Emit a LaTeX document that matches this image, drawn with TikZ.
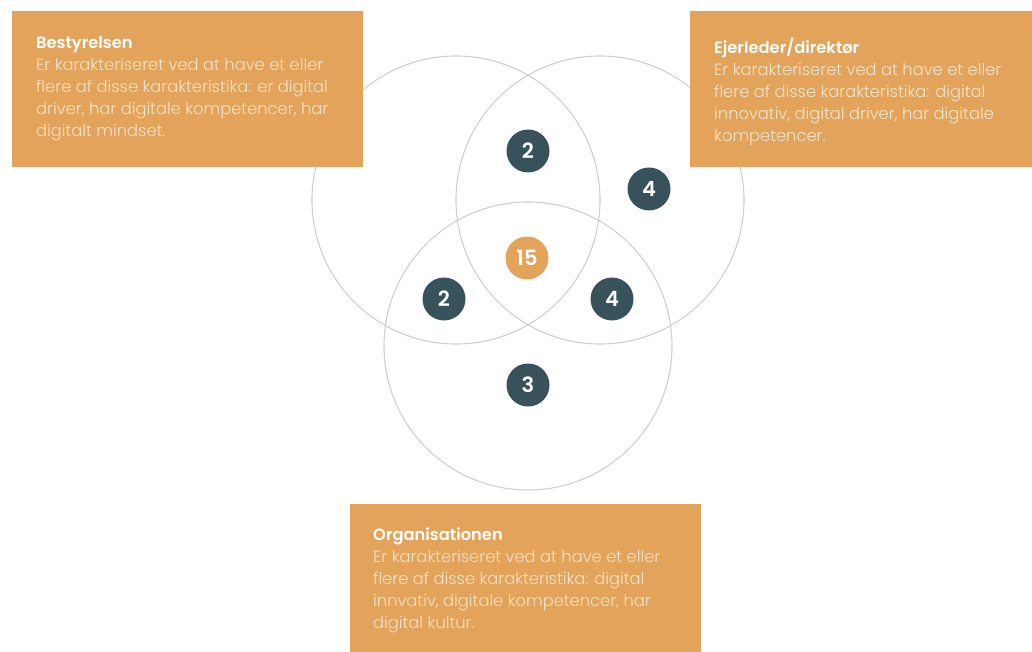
\documentclass[tikz,border=0pt]{standalone}
\usepackage{fontspec}
\setmainfont{Poppins}[UprightFont=* Light, BoldFont=* SemiBold]
\usetikzlibrary{positioning}
\definecolor{boxorange}{HTML}{E3A35A}
\definecolor{badgeteal}{HTML}{38525C}
\definecolor{ringgray}{HTML}{CFCFCF}
\definecolor{bodycream}{HTML}{F8E5CD}

\tikzset{
	ring/.style={draw=ringgray, line width=1.1pt},
	infotext/.style={anchor=north west, inner sep=0pt, text=bodycream, align=left,
		font=\fontsize{16.3}{22}\selectfont},
	badge/.style={circle, fill=badgeteal, minimum size=43pt, inner sep=0pt, text=white,
		font=\fontsize{21}{21}\selectfont\bfseries},
	centerbadge/.style={badge, fill=boxorange}
}
\newcommand{\boxtitle}[1]{{\color{white}\bfseries #1}}

\begin{document}
\begin{tikzpicture}[x=1pt, y=-1pt]
	%%%%% FRAME %%%%%
	\useasboundingbox (0, 0) rectangle (1032, 652);
	
	%%%%% RINGS %%%%%
	\draw[ring] (456, 200) circle (144);
	\draw[ring] (600, 200) circle (144);
	\draw[ring] (528, 346) circle (144);
	
	%%%%% BOXES %%%%%
	\fill[boxorange] (12, 11) rectangle (363, 167);
	\fill[boxorange] (690, 11) rectangle (1032, 167);
	\fill[boxorange] (350, 504) rectangle (701, 652);
	
	\node[infotext] (bestyrelsen) at (36, 36) {\boxtitle{Bestyrelsen}\\
		Er karakteriseret ved at have et eller\\ flere af disse karakteristika: er digital\\
		driver, har digitale kompetencer, har\\ digitalt mindset.};
	\node[infotext] (ejerleder) at (714, 38) {\boxtitle{Ejerleder/direktør}\\
		Er karakteriseret ved at have et eller\\ flere af disse karakteristika: digital\\
		innovativ, digital driver, har digitale\\ kompetencer.};
	\node[infotext] (organisationen) at (373, 528) {\boxtitle{Organisationen}\\
		Er karakteriseret ved at have et eller\\ flere af disse karakteristika: digital\\
		innvativ, digitale kompetencer, har\\ digital kultur.};
	
	%%%%% COUNTS %%%%%
	\node[badge] (bestejer) at (528, 151) {2};
	\node[badge] (ejer) at (649, 189) {4};
	\node[centerbadge] (alle) at (527, 258) {15};
	\node[badge] (bestorg) at (444, 299) {2};
	\node[badge] (ejerorg) at (612, 299) {4};
	\node[badge] (org) at (528, 385) {3};
\end{tikzpicture}
\end{document}
